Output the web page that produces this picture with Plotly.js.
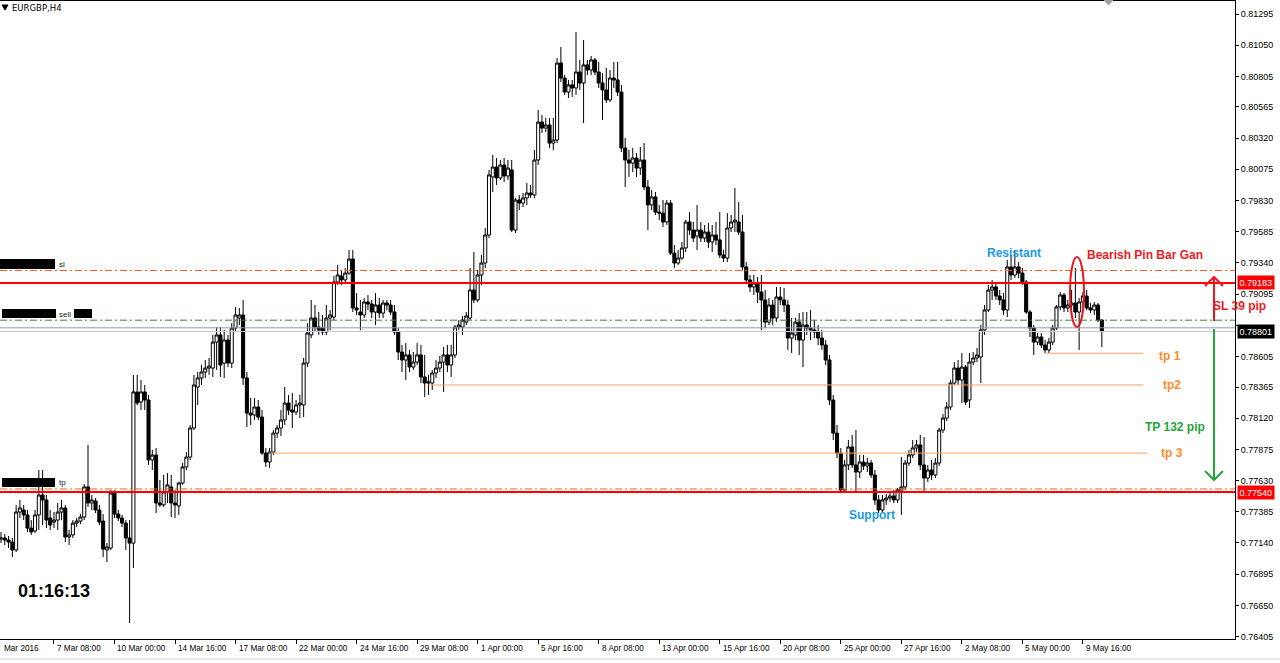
<!DOCTYPE html>
<html><head><meta charset="utf-8">
<script src="https://cdn.plot.ly/plotly-3.0.1.min.js"></script>
<style>html,body{margin:0;padding:0;background:#fff;overflow:hidden}#chart{width:1280px;height:663px}</style>
</head><body><div id="chart"></div>
<script>
// EURGBP H4 candles (prices)
const barOpen = [.77171,.77179,.77163,.77147,.77085,.77383,.77399,.77360,.77257,.77234,
.77360,.77517,.77478,.77336,.77304,.77320,.77383,.77415,.77187,.77203,
.77296,.77312,.77344,.77580,.77454,.77470,.77399,.77312,.77085,.77100,
.77532,.77367,.77336,.77296,.77179,.77139,.78326,.78247,.78326,.78263,
.77792,.77831,.77454,.77439,.77540,.77580,.77454,.77431,.77611,.77737,
.77815,.78043,.78365,.78436,.78483,.78514,.78514,.78718,.78774,.78553,
.78734,.78553,.78828,.78907,.78931,.78436,.78160,.78145,.78208,.78129,
.77846,.77776,.77854,.78003,.78043,.78106,.78239,.78184,.78168,.78224,
.78224,.78553,.78774,.78907,.78836,.78828,.78797,.78907,.78915,.79190,
.79237,.79206,.79260,.79370,.78986,.78954,.78931,.79033,.79017,.78954,
.79009,.78946,.79025,.79009,.78954,.78797,.78640,.78577,.78617,.78522,
.78561,.78617,.78444,.78396,.78396,.78475,.78514,.78561,.78617,.78538,
.78617,.78836,.78836,.78875,.78907,.79127,.79049,.79245,.79339,.79559,
.80015,.80093,.80007,.80109,.80023,.80070,.79598,.79834,.79810,.79850,
.79889,.79874,.80148,.80446,.80399,.80423,.80281,.80305,.80910,.80792,
.80682,.80738,.80714,.80839,.80753,.80895,.80855,.80934,.80839,.80753,
.80698,.80620,.80792,.80777,.80682,.80242,.80148,.80124,.80164,.80085,
.80148,.79936,.79795,.79858,.79739,.79731,.79661,.79810,.79417,.79339,
.79378,.79457,.79661,.79598,.79551,.79598,.79535,.79582,.79504,.79559,
.79520,.79402,.79378,.79614,.79661,.79661,.79582,.79308,.79206,.79151,
.79182,.79111,.79049,.78875,.79009,.78907,.79072,.79049,.79009,.78750,
.78774,.78875,.78734,.78852,.78828,.78813,.78797,.78750,.78695,.78577,
.78263,.78003,.77846,.77556,.77753,.77894,.77753,.77697,.77776,.77745,
.77768,.77674,.77478,.77399,.77478,.77493,.77509,.77478,.77556,.77580,
.77768,.77831,.77886,.77910,.77753,.77650,.77713,.77674,.77768,.78027,
.78121,.78208,.78396,.78514,.78420,.78522,.78263,.78561,.78593,.78601,
.78813,.78970,.79127,.79151,.79080,.79049,.78970,.79308,.79245,.79308,
.79260,.79190,.78954,.78828,.78718,.78758,.78695,.78656,.78718,.78828,
.78994,.79088,.78986,.79009,.79025,.78954,.79033,.79080,.78986,.78970,
.79009,.78891];
const barHigh = [.77226,.77210,.77195,.77179,.77439,.77478,.77439,.77399,.77320,.77399,
.77713,.77713,.77517,.77399,.77383,.77454,.77478,.77439,.77242,.77320,
.77336,.77367,.77603,.77910,.77517,.77493,.77439,.77367,.77139,.77556,
.77556,.77399,.77360,.77320,.77320,.78460,.78460,.78420,.78381,.78303,
.77870,.77886,.77635,.77674,.77689,.77674,.77556,.77619,.77768,.77854,
.78067,.78460,.78483,.78538,.78577,.78593,.78774,.78836,.78836,.78813,
.78774,.78867,.78994,.78986,.79049,.78483,.78279,.78279,.78263,.78184,
.77886,.77886,.78027,.78067,.78184,.78365,.78303,.78318,.78263,.78303,
.78593,.78867,.79049,.79009,.78954,.78931,.79009,.78970,.79237,.79324,
.79284,.79300,.79441,.79441,.79103,.79049,.79064,.79088,.79049,.79103,
.79064,.79049,.79049,.79049,.79009,.78828,.78695,.78710,.78656,.78640,
.78710,.78695,.78617,.78460,.78499,.78577,.78609,.78679,.78695,.78695,
.78852,.78891,.78923,.78954,.79300,.79425,.79284,.79402,.79614,.80070,
.80188,.80164,.80148,.80164,.80148,.80148,.79850,.79874,.79889,.79967,
.79952,.80227,.80541,.80502,.80478,.80478,.80478,.80949,.81036,.80816,
.80777,.80777,.81153,.80934,.81091,.80934,.80965,.80949,.80918,.80831,
.80871,.80855,.80918,.80918,.80738,.80321,.80227,.80242,.80203,.80250,
.80281,.79991,.79913,.79897,.79795,.79834,.79834,.79834,.79480,.79441,
.79504,.79677,.79739,.79661,.79795,.79661,.79638,.79653,.79638,.79661,
.79739,.79441,.79731,.79716,.79928,.79818,.79716,.79347,.79245,.79245,
.79229,.79245,.79127,.79064,.79049,.79151,.79151,.79143,.79049,.78907,
.78907,.78946,.78954,.78954,.78970,.78891,.78852,.78813,.78734,.78617,
.78303,.78067,.77886,.77792,.77949,.77988,.78027,.77831,.77831,.77807,
.77792,.77713,.77517,.77517,.77524,.77540,.77556,.77572,.77815,.77792,
.77870,.77949,.77949,.77988,.77972,.77753,.77792,.77807,.78043,.78152,
.78247,.78420,.78561,.78577,.78632,.78538,.78632,.78640,.78671,.78852,
.79009,.79167,.79206,.79190,.79127,.79103,.79363,.79402,.79441,.79347,
.79300,.79206,.78970,.78852,.78789,.78789,.78734,.78750,.78852,.79009,
.79111,.79103,.79049,.79127,.79300,.79064,.79111,.79127,.79025,.79033,
.79025,.78899];
const barLow = [.77139,.77124,.77100,.77030,.77069,.77336,.77320,.77226,.77203,.77218,
.77242,.77281,.77257,.77242,.77257,.77242,.77320,.77147,.77124,.77179,
.77265,.77288,.77320,.77423,.77399,.77375,.77281,.77030,.76990,.77085,
.77336,.77312,.77265,.77085,.76511,.76943,.78224,.78184,.78184,.77753,
.77713,.77375,.77423,.77423,.77454,.77344,.77336,.77360,.77596,.77713,
.77792,.78027,.78224,.78381,.78436,.78460,.78444,.78499,.78444,.78436,
.78522,.78514,.78797,.78852,.78381,.78051,.78067,.78106,.78106,.77831,
.77737,.77729,.77831,.77964,.77980,.78067,.78145,.78043,.78145,.78121,
.78129,.78522,.78750,.78797,.78774,.78774,.78774,.78813,.78891,.79167,
.79167,.79182,.79245,.78954,.78931,.78813,.78907,.78970,.78907,.78852,
.78907,.78907,.78970,.78931,.78774,.78577,.78483,.78420,.78483,.78499,
.78538,.78396,.78287,.78303,.78342,.78436,.78483,.78326,.78483,.78444,
.78593,.78813,.78774,.78852,.78891,.79025,.79033,.79167,.79300,.79535,
.79897,.79952,.79991,.79975,.79991,.79582,.79574,.79755,.79779,.79795,
.79850,.79850,.80109,.80360,.80368,.80242,.80227,.80281,.80761,.80659,
.80635,.80643,.80659,.80698,.80438,.80816,.80816,.80816,.80714,.80462,
.80596,.80604,.80714,.80651,.80211,.79936,.80015,.80054,.80015,.80031,
.79913,.79598,.79755,.79716,.79677,.79622,.79638,.79402,.79300,.79324,
.79363,.79425,.79559,.79504,.79441,.79504,.79504,.79457,.79425,.79480,
.79378,.79347,.79347,.79582,.79582,.79559,.79284,.79182,.79111,.79088,
.79025,.78813,.78828,.78852,.78852,.78875,.79009,.78954,.78656,.78632,
.78734,.78617,.78522,.78774,.78734,.78750,.78695,.78656,.78538,.78224,
.77949,.77807,.77532,.77532,.77713,.77729,.77532,.77650,.77713,.77697,
.77650,.77439,.77375,.77375,.77439,.77462,.77454,.77454,.77360,.77556,
.77745,.77807,.77854,.77713,.77532,.77619,.77635,.77650,.77745,.78003,
.78098,.78184,.78381,.78381,.78239,.78224,.78200,.78538,.78561,.78396,
.78774,.78954,.79049,.79049,.79009,.78931,.78915,.79206,.79221,.79221,
.79167,.78939,.78758,.78617,.78695,.78671,.78632,.78632,.78695,.78813,
.78970,.78954,.78954,.78907,.78907,.78656,.78986,.78970,.78946,.78931,
.78875,.78679];
const barClose = [.77179,.77163,.77147,.77085,.77383,.77415,.77360,.77257,.77226,.77360,
.77517,.77478,.77320,.77281,.77320,.77383,.77415,.77187,.77203,.77296,
.77312,.77344,.77580,.77454,.77478,.77399,.77304,.77092,.77108,.77532,
.77367,.77336,.77296,.77179,.77139,.78326,.78239,.78326,.78263,.77792,
.77831,.77454,.77439,.77540,.77596,.77454,.77439,.77611,.77737,.77815,
.78043,.78381,.78436,.78483,.78514,.78530,.78718,.78774,.78538,.78734,
.78553,.78828,.78931,.78931,.78436,.78160,.78145,.78208,.78129,.77846,
.77776,.77854,.78003,.78043,.78106,.78239,.78184,.78168,.78224,.78239,
.78553,.78789,.78907,.78836,.78813,.78797,.78907,.78931,.79190,.79245,
.79206,.79260,.79370,.78986,.78970,.78931,.79033,.79017,.78954,.79009,
.78946,.79025,.79009,.78954,.78797,.78640,.78577,.78617,.78522,.78561,
.78617,.78444,.78396,.78404,.78475,.78514,.78561,.78617,.78538,.78617,
.78836,.78852,.78891,.78923,.79127,.79049,.79245,.79339,.79559,.80031,
.80093,.80007,.80109,.80023,.80085,.79598,.79834,.79810,.79850,.79889,
.79874,.80148,.80446,.80399,.80423,.80281,.80305,.80910,.80792,.80682,
.80738,.80714,.80839,.80753,.80895,.80855,.80934,.80839,.80753,.80698,
.80620,.80792,.80777,.80682,.80242,.80148,.80124,.80164,.80085,.80148,
.79936,.79795,.79858,.79739,.79731,.79661,.79810,.79417,.79339,.79378,
.79457,.79661,.79598,.79535,.79598,.79535,.79582,.79504,.79559,.79520,
.79402,.79378,.79614,.79661,.79677,.79582,.79308,.79206,.79151,.79182,
.79111,.79049,.78875,.79009,.78907,.79072,.79049,.79009,.78750,.78789,
.78875,.78734,.78852,.78828,.78813,.78797,.78750,.78695,.78577,.78263,
.78003,.77846,.77556,.77753,.77894,.77753,.77697,.77776,.77745,.77768,
.77674,.77478,.77399,.77478,.77493,.77509,.77478,.77556,.77580,.77768,
.77831,.77886,.77910,.77753,.77650,.77713,.77674,.77768,.78027,.78121,
.78208,.78396,.78514,.78420,.78522,.78247,.78561,.78593,.78617,.78813,
.78970,.79127,.79151,.79080,.79049,.78970,.79308,.79245,.79308,.79260,
.79190,.78954,.78828,.78718,.78758,.78695,.78656,.78718,.78828,.78994,
.79088,.78986,.79009,.79025,.78954,.79033,.79080,.78986,.78970,.79009,
.78891,.78801];

// time axis labels (bar number where each label sits)
const timeLabels = ["Mar 2016","7 Mar 08:00","10 Mar 00:00","14 Mar 16:00","17 Mar 08:00","22 Mar 00:00","24 Mar 16:00","29 Mar 08:00","1 Apr 00:00","5 Apr 16:00","8 Apr 08:00","13 Apr 00:00","15 Apr 16:00","20 Apr 08:00","25 Apr 00:00","27 Apr 16:00","2 May 08:00","5 May 00:00","9 May 16:00"];
const timeLabelBars = [0,14,30,46,62,78,94,110,126,142,158,174,190,206,222,238,254,270,286];

// price axis ticks (0.78850 sits under the bid box, so its text is not shown)
const priceTicks = [0.81295,0.81050,0.80805,0.80565,0.80320,0.80075,0.79830,0.79585,0.79340,0.79095,0.78850,0.78605,0.78365,0.78120,0.77875,0.77630,0.77385,0.77140,0.76895,0.76650,0.76405];
const priceTickText = ["0.81295","0.81050","0.80805","0.80565","0.80320","0.80075","0.79830","0.79585","0.79340","0.79095","","0.78605","0.78365","0.78120","0.77875","0.77630","0.77385","0.77140","0.76895","0.76650","0.76405"];

// horizontal levels
const slLevel = 0.79280, slPrice = 0.79183, sellLevel = 0.78890, askLevel = 0.78830, bidPrice = 0.78801, tpLevel = 0.77564, tpPrice = 0.77540;
const targetNames = ["tp 1","tp2","tp 3"];
const targetPrices = [0.78630, 0.78381, 0.77846];
const targetStartBars = [276, 113, 71];
const targetEndBars = [302, 302, 303];

// ---------- drawing ----------
const W = 1280, H = 663, ML = 0, MR = 45, MT = 1, MB = 24;
const PW = W - ML - MR, PH = H - MT - MB;
const px = x => (x - ML) / PW;
const py = y => 1 - (y - MT) / PH;
const bars = barClose.map((_, i) => i);

const trace = {
  type: 'candlestick', x: bars, open: barOpen, high: barHigh, low: barLow, close: barClose,
  increasing: {line: {color: '#000', width: 1}, fillcolor: '#ffffff'},
  decreasing: {line: {color: '#000', width: 1}, fillcolor: '#000000'},
  whiskerwidth: 0, hoverinfo: 'skip', showlegend: false
};

const shapes = [];
const hline = (v, color, width, dash) => shapes.push({type: 'line', xref: 'paper', x0: 0, x1: 1, yref: 'y', y0: v, y1: v, line: {color, width, dash}, layer: 'above'});
const DD = '7px,3px,2px,3px';
hline(askLevel, '#8f9eab', 1, 'solid');
hline(bidPrice, '#c8c8c8', 1, 'solid');
hline(slLevel, '#ff5a1e', 1, DD);
hline(slPrice, '#ff0000', 2, 'solid');
hline(sellLevel, '#2e8b2e', 1, DD);
hline(tpLevel, '#ff5a1e', 1, DD);
hline(tpPrice, '#ff0000', 2, 'solid');
targetPrices.forEach((v, k) => shapes.push({type: 'line', xref: 'x', x0: targetStartBars[k], x1: targetEndBars[k], yref: 'y', y0: v, y1: v, line: {color: '#ffa060', width: 1}, layer: 'above'}));

const pline = (x0, y0, x1, y1, color, width) => shapes.push({type: 'line', xref: 'paper', yref: 'paper', x0: px(x0), y0: py(y0), x1: px(x1), y1: py(y1), line: {color, width}});
const ppath = (pts, color, width, fill) => shapes.push({type: 'path', xref: 'paper', yref: 'paper', path: 'M' + pts.map(p => px(p[0]) + ',' + py(p[1])).join(' L') + (fill ? ' Z' : ''), line: {color, width}, fillcolor: fill || 'rgba(0,0,0,0)'});
const prect = (x0, y0, x1, y1, color) => shapes.push({type: 'rect', xref: 'paper', yref: 'paper', x0: px(x0), y0: py(y0), x1: px(x1), y1: py(y1), fillcolor: color, line: {width: 0}});

// red arrow (SL) and green arrow (TP)
pline(1214, 321, 1214, 277, '#f0141e', 2);
ppath([[1205, 286], [1214, 277], [1223, 286]], '#f0141e', 2);
pline(1214, 329, 1214, 480, '#22a638', 2);
ppath([[1205, 471], [1214, 480], [1223, 471]], '#22a638', 2);
// ellipse around pin bar
shapes.push({type: 'circle', xref: 'paper', yref: 'paper', x0: px(1070), x1: px(1084), y0: py(327), y1: py(257), line: {color: '#f0141e', width: 2}});
// black label boxes
prect(0, 259, 55, 269, '#000');
prect(2, 309, 56, 318, '#000');
prect(74, 309, 92, 318, '#000');
prect(2, 478, 55, 487, '#000');
// small markers
ppath([[2, 5], [8, 5], [5, 10]], '#000', 1, '#000');
ppath([[1104, 0], [1113, 0], [1108.5, 5]], '#a0a0a0', 1, '#a0a0a0');
// window bottom edge
pline(0, 659, 1280, 659, '#d4d4d4', 1);

const annotations = [];
const txt = (text, x, y, opt) => annotations.push(Object.assign({xref: 'paper', yref: 'paper', x: px(x), y: py(y), text, showarrow: false, xanchor: 'center', yanchor: 'middle', font: {family: 'Liberation Sans, Arial, sans-serif', size: 12, color: '#000'}}, opt || {}));
const bold = (c, s) => ({font: {family: 'Liberation Sans, Arial, sans-serif', size: s || 12, color: c}});
const small = {family: 'Liberation Sans, sans-serif', size: 8, color: '#222'};

txt('EURGBP,H4', 10, 8, {xanchor: 'left', font: {family: 'DejaVu Sans, sans-serif', size: 8.5, color: '#000'}});
txt('<b>01:16:13</b>', 16, 591, Object.assign({xanchor: 'left'}, bold('#000', 18)));
txt('<b>Resistant</b>', 1014, 253, bold('#1a98e6'));
txt('<b>Support</b>', 872.5, 515, bold('#1a98e6'));
txt('<b>Bearish Pin Bar Gan</b>', 1145, 255, bold('#ec1c24'));
txt('<b>SL 39 pip</b>', 1239, 306, bold('#ec1c24'));
txt('<b>TP 132 pip</b>', 1175, 427, bold('#22a638'));
const tpLabelX = [1170, 1172, 1171.5];
targetPrices.forEach((v, k) => annotations.push({xref: 'paper', x: px(tpLabelX[k]), yref: 'y', y: v, yshift: k === 0 ? -3 : 0, text: '<b>' + targetNames[k] + '</b>', showarrow: false, xanchor: 'center', yanchor: 'middle', font: {family: 'Liberation Sans, Arial, sans-serif', size: 12, color: '#ff8c28'}}));
txt('sl', 57, 264, {xanchor: 'left', font: small});
txt('sell', 57, 314, {xanchor: 'left', font: small});
txt('tp', 57, 483, {xanchor: 'left', font: small});

// right-side price boxes
const priceBox = (v, bg) => annotations.push({xref: 'paper', x: 1, xshift: 2, xanchor: 'left', yref: 'y', y: v, yanchor: 'middle', text: v.toFixed(5), showarrow: false, bgcolor: bg, borderpad: 1.5, font: {family: 'Liberation Sans, sans-serif', size: 9, color: '#fff'}});
priceBox(slPrice, '#ff0000');
priceBox(bidPrice, '#000000');
priceBox(tpPrice, '#ff0000');

// time labels (left aligned at their ticks, as MT4 does)
timeLabels.forEach((t, k) => annotations.push({xref: 'x', x: timeLabelBars[k], xshift: 1, xanchor: 'left', yref: 'paper', y: py(648), yanchor: 'middle', text: t, showarrow: false, font: {family: 'Liberation Sans, sans-serif', size: 8.2, color: '#000'}}));

const layout = {
  width: W, height: H, margin: {l: ML, r: MR, t: MT, b: MB},
  paper_bgcolor: '#fff', plot_bgcolor: '#fff', showlegend: false,
  boxgap: 0.1, boxgroupgap: 0.1,
  xaxis: {range: [-0.264, 326.2], tickvals: timeLabelBars.slice(1), showticklabels: false, ticks: 'outside', ticklen: 4, tickcolor: '#000',
          showgrid: false, zeroline: false, showline: true, linecolor: '#000', linewidth: 1, mirror: true, rangeslider: {visible: false}, fixedrange: true},
  yaxis: {side: 'right', range: [0.763857, 0.813971], tickvals: priceTicks, ticktext: priceTickText, ticks: 'outside', ticklen: 3, tickcolor: '#000',
          tickfont: {family: 'Liberation Sans, sans-serif', size: 9, color: '#000'}, showgrid: false, zeroline: false, showline: true, linecolor: '#000', linewidth: 1, fixedrange: true},
  shapes, annotations
};
Plotly.newPlot('chart', [trace], layout, {staticPlot: true, displayModeBar: false});
</script>
</body></html>
